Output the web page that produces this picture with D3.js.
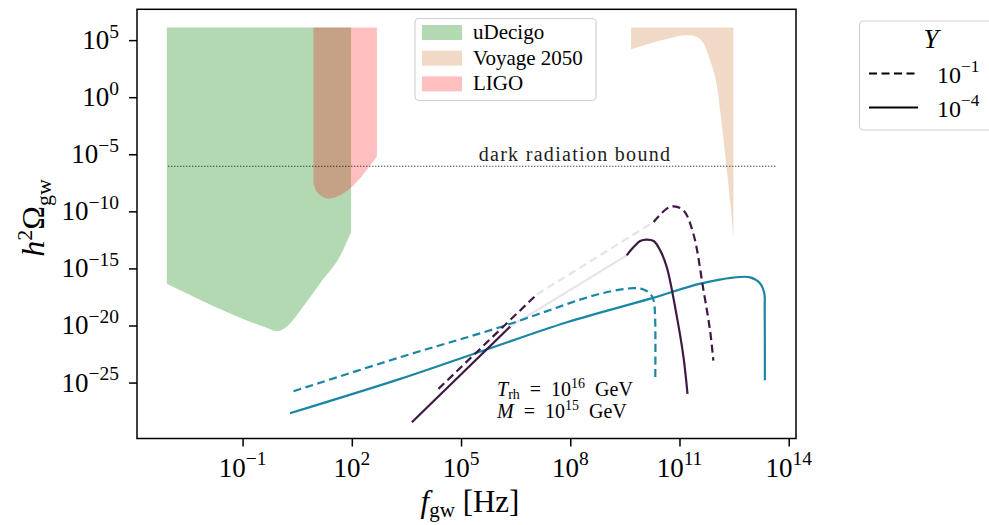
<!DOCTYPE html>
<html>
<head>
<meta charset="utf-8">
<script src="https://cdn.jsdelivr.net/npm/d3@7"></script>
<style>
  body { margin: 0; background: #fff; }
  svg { font-family: "Liberation Serif", serif; }
</style>
</head>
<body>
<div id="chart"></div>
<script>
// all values are log10 of the quantity
var xTicks = [-1, 2, 5, 8, 11, 14];
var yTicks = [5, 0, -5, -10, -15, -20, -25];

// sensitivity regions: lower edge [log f, log Omega], top edge at regionTop
var regionTop = 6.1;
var uDecigo = [[-3.08, -16.34], [-0.34, -20.2], [-0.06, -20.5], [0.21, -20.1], [0.58, -18.7],
               [1.13, -16.3], [1.68, -13.9], [1.98, -11.8]];
var ligo = [[0.945, -7.57], [1.04, -8.3], [1.36, -8.89], [1.68, -8.6], [1.95, -8.0], [2.69, -5.2]];
var voyage = [[9.67, 4.19], [10.2, 4.72], [10.65, 5.1], [11.2, 5.45], [11.48, 5.25], [11.66, 4.72],
              [11.84, 3.26], [12.03, 0.92], [12.2, -3.47], [12.35, -7.85], [12.44, -10.77], [12.48, -12.37]];
var regionNames = ["uDecigo", "Voyage 2050", "LIGO"];

var darkRadiation = { y: -6.05, x0: -3.04, x1: 13.66 };

// spectra, Y = 1e-1 (dashed) and Y = 1e-4 (solid)
var tealDashed = [[0.40, -25.76], [3.33, -22.78], [6.07, -20.15], [8.82, -17.22], [9.74, -16.73],
                  [10.01, -16.84], [10.2, -17.22], [10.29, -17.81], [10.33, -19.27], [10.335, -24.54]];
var tealSolid = [[0.30, -27.69], [3.33, -24.68], [5.62, -22.19], [7.91, -19.71], [10.2, -17.65],
                 [11.57, -16.33], [12.48, -15.8], [12.94, -15.78], [13.21, -16.3], [13.33, -17.2],
                 [13.34, -18.5], [13.345, -24.8]];
var purpleDashedLow = [[4.38, -25.55], [7.08, -17.28]];
var grayDashed = [[7.08, -17.28], [10.29, -10.94]];
var purpleDashedHigh = [[10.29, -10.94], [10.65, -9.76], [10.84, -9.56], [11.11, -9.91], [11.38, -11.96],
                        [11.66, -16.93], [11.84, -20.44], [11.93, -23.07]];
var purpleSolidLow = [[3.65, -28.48], [6.35, -20.1]];
var graySolid = [[6.35, -20.1], [9.55, -13.86]];
var purpleSolidHigh = [[9.55, -13.86], [9.74, -13.13], [9.92, -12.6], [10.1, -12.48], [10.29, -12.6],
                       [10.47, -13.42], [10.65, -14.88], [10.93, -19.27], [11.11, -22.78], [11.22, -25.99]];
var yLegendLabels = [-1, -4];

var width = 989, height = 525;
var mLeft = 137, mRight = 796, mTop = 9.3, mBottom = 438.5;
var teal = "#1a86a4", purple = "#3d1944", gray = "#e7e3e7";
var fontSize = 27;

var svg = d3.select("#chart").append("svg")
    .attr("width", width)
    .attr("height", height);

var x = d3.scaleLog().domain([Math.pow(10, -3.9), Math.pow(10, 14.2)]).range([mLeft, mRight]);
var y = d3.scaleLog().domain([Math.pow(10, -29.9), Math.pow(10, 7.7)]).range([mBottom, mTop]);
var px = function(d) { return x(Math.pow(10, d[0])); };
var py = function(d) { return y(Math.pow(10, d[1])); };

var area = d3.area()
    .x(px)
    .y0(py)
    .y1(function() { return y(Math.pow(10, regionTop)); })
    .curve(d3.curveMonotoneX);

svg.append("path").datum(uDecigo).attr("d", area).attr("fill", "green").attr("fill-opacity", 0.3);
svg.append("path").datum(voyage).attr("d", area).attr("fill", "peru").attr("fill-opacity", 0.3);
svg.append("path").datum(ligo).attr("d", area).attr("fill", "red").attr("fill-opacity", 0.25);

// dark radiation bound
svg.append("line")
    .attr("x1", x(Math.pow(10, darkRadiation.x0)))
    .attr("x2", x(Math.pow(10, darkRadiation.x1)))
    .attr("y1", y(Math.pow(10, darkRadiation.y)))
    .attr("y2", y(Math.pow(10, darkRadiation.y)))
    .attr("stroke", "#000")
    .attr("stroke-width", 1)
    .attr("stroke-dasharray", "1,2");
svg.append("text")
    .attr("x", 575)
    .attr("y", y(Math.pow(10, darkRadiation.y)) - 5)
    .attr("text-anchor", "middle")
    .attr("font-size", 20)
    .attr("letter-spacing", 1.3)
    .attr("fill", "#222")
    .text("dark radiation bound");

var line = d3.line().x(px).y(py).curve(d3.curveCatmullRom.alpha(0.5));
function curve(data, color, dashed) {
  svg.append("path").datum(data)
      .attr("d", line)
      .attr("fill", "none")
      .attr("stroke", color)
      .attr("stroke-width", 2.2)
      .attr("stroke-dasharray", dashed ? "8,4.5" : null);
}
curve(grayDashed, gray, true);
curve(graySolid, gray, false);
curve(tealDashed, teal, true);
curve(tealSolid, teal, false);
curve(purpleDashedLow, purple, true);
curve(purpleDashedHigh, purple, true);
curve(purpleSolidLow, purple, false);
curve(purpleSolidHigh, purple, false);

// axes
svg.append("g")
    .attr("transform", "translate(0," + mBottom + ")")
    .call(d3.axisBottom(x).tickValues(xTicks.map(function(e) { return Math.pow(10, e); }))
      .tickSize(8).tickFormat(""));
svg.append("g")
    .attr("transform", "translate(" + mLeft + ",0)")
    .call(d3.axisLeft(y).tickValues(yTicks.map(function(e) { return Math.pow(10, e); }))
      .tickSize(8).tickFormat(""));
svg.selectAll(".domain").remove();
svg.selectAll(".tick line").attr("stroke", "#000").attr("stroke-width", 1.5);

function powLabel(t, e, size) {
  t.append("tspan").text("10");
  t.append("tspan")
      .attr("dy", -size * 0.42)
      .attr("font-size", size * 0.72)
      .text(String(e).replace("-", "\u2212"));
}

xTicks.forEach(function(e) {
  var t = svg.append("text")
      .attr("x", x(Math.pow(10, e)))
      .attr("y", mBottom + 38)
      .attr("text-anchor", "middle")
      .attr("font-size", fontSize);
  powLabel(t, e, fontSize);
});
yTicks.forEach(function(e) {
  var t = svg.append("text")
      .attr("x", 119)
      .attr("y", y(Math.pow(10, e)) + 9)
      .attr("text-anchor", "end")
      .attr("font-size", fontSize);
  powLabel(t, e, fontSize);
});

svg.append("rect")
    .attr("x", mLeft).attr("y", mTop)
    .attr("width", mRight - mLeft).attr("height", mBottom - mTop)
    .attr("fill", "none").attr("stroke", "#000").attr("stroke-width", 1.5);

// axis labels
var xl = svg.append("text")
    .attr("x", 470).attr("y", 512)
    .attr("text-anchor", "middle")
    .attr("font-size", 31);
xl.append("tspan").attr("font-style", "italic").text("f");
xl.append("tspan").attr("dy", 5).attr("font-size", 21).text("gw");
xl.append("tspan").attr("dy", -5).text(" [Hz]");

var yl = svg.append("text")
    .attr("transform", "translate(44,218) rotate(-90)")
    .attr("text-anchor", "middle")
    .attr("font-size", 32);
yl.append("tspan").attr("font-style", "italic").text("h");
yl.append("tspan").attr("dy", -12).attr("font-size", 22).text("2");
yl.append("tspan").attr("dy", 12).text("\u03a9");
yl.append("tspan").attr("dy", 7).attr("font-size", 22).text("gw");

// annotation
var ann = svg.append("text").attr("x", 497).attr("y", 396).attr("font-size", 20)
    .style("white-space", "pre");
ann.append("tspan").attr("font-style", "italic").text("T");
ann.append("tspan").attr("dy", 3).attr("font-size", 14).text("rh");
ann.append("tspan").attr("dy", -3).text("  =  10");
ann.append("tspan").attr("dy", -8).attr("font-size", 14).text("16");
ann.append("tspan").attr("dy", 8).text("  GeV");
var ann2 = svg.append("text").attr("x", 497).attr("y", 418).attr("font-size", 20)
    .style("white-space", "pre");
ann2.append("tspan").attr("font-style", "italic").text("M");
ann2.append("tspan").text("  =  10");
ann2.append("tspan").attr("dy", -8).attr("font-size", 14).text("15");
ann2.append("tspan").attr("dy", 8).text("  GeV");

// region legend
var regionColors = [["green", 0.3], ["peru", 0.3], ["red", 0.25]];
svg.append("rect")
    .attr("x", 415).attr("y", 18.5).attr("width", 181).attr("height", 82)
    .attr("rx", 4).attr("fill", "#fff").attr("fill-opacity", 0.8)
    .attr("stroke", "#d0d0d0").attr("stroke-width", 1.2);
regionNames.forEach(function(name, i) {
  var cy = 32.5 + i * 25.7;
  svg.append("rect")
      .attr("x", 422).attr("y", cy - 7.5).attr("width", 40).attr("height", 15)
      .attr("fill", regionColors[i][0]).attr("fill-opacity", regionColors[i][1]);
  svg.append("text")
      .attr("x", 473).attr("y", cy + 6.5)
      .attr("font-size", 21)
      .text(name);
});

// Y legend
svg.append("rect")
    .attr("x", 859.5).attr("y", 21).attr("width", 150).attr("height", 109)
    .attr("rx", 4).attr("fill", "#fff")
    .attr("stroke", "#d0d0d0").attr("stroke-width", 1.2);
svg.append("text")
    .attr("x", 931).attr("y", 48)
    .attr("text-anchor", "middle")
    .attr("font-size", 27)
    .attr("font-style", "italic")
    .text("Y");
yLegendLabels.forEach(function(e, i) {
  var ly = 73.5 + i * 34;
  svg.append("line")
      .attr("x1", 869).attr("x2", 918).attr("y1", ly).attr("y2", ly)
      .attr("stroke", "#000").attr("stroke-width", 2.2)
      .attr("stroke-dasharray", i === 0 ? "8,4.5" : null);
  var t = svg.append("text")
      .attr("x", 937).attr("y", ly + 9)
      .attr("font-size", 24);
  powLabel(t, e, 24);
});
</script>
</body>
</html>
